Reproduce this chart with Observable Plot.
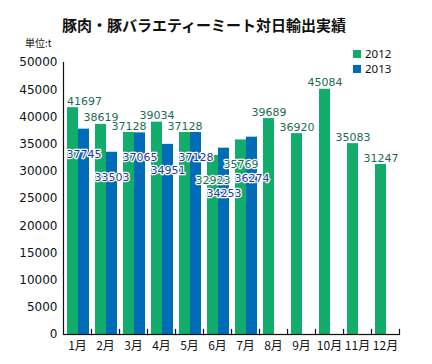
<!DOCTYPE html>
<html>
<head>
<meta charset="utf-8">
<script src="https://cdn.jsdelivr.net/npm/d3@7"></script>
<script src="https://cdn.jsdelivr.net/npm/@observablehq/plot@0.6"></script>
<style>
  body { margin: 0; background: #fff; }
  #wrap { position: relative; width: 432px; height: 364px; overflow: hidden; font-family: "Noto Sans CJK JP", sans-serif; color: #111; }
  #chart { position: absolute; left: 0; top: 0; }
  #title { position: absolute; left: 62px; top: 14px; font-size: 15px; font-weight: bold; white-space: nowrap; line-height: 22px; }
  #unit { position: absolute; left: 25px; top: 36px; font-size: 10px; white-space: nowrap; line-height: 14px; }
  #legend { position: absolute; left: 353px; top: 46px; font-family: "Noto Sans", sans-serif; font-size: 11.5px; line-height: 15px; }
  #legend div { display: flex; align-items: center; height: 15px; }
  #legend span.sw { display: inline-block; width: 8px; height: 8px; margin-right: 4px; }
</style>
</head>
<body>
<div id="wrap">
  <div id="chart"></div>
  <div id="title"></div>
  <div id="unit"></div>
  <div id="legend"></div>
</div>
<script>
const titleText = "豚肉・豚バラエティーミート対日輸出実績";
const unitText = "単位:t";
const months = ["1月","2月","3月","4月","5月","6月","7月","8月","9月","10月","11月","12月"];
const years = ["2012", "2013"];
const values2012 = [41697, 38619, 37128, 39034, 37128, 32923, 35769, 39689, 36920, 45084, 35083, 31247];
const values2013 = [37745, 33503, 37065, 34951, 37128, 34253, 36274];
const yTicks = [0, 5000, 10000, 15000, 20000, 25000, 30000, 35000, 40000, 45000, 50000];
const barColors = ["#12ad6b", "#006bb6"];
const labelColors = ["#1e6b50", "#26399a"];

document.getElementById("title").textContent = titleText;
document.getElementById("unit").textContent = unitText;
const leg = document.getElementById("legend");
years.forEach((y, i) => {
  const row = document.createElement("div");
  const sw = document.createElement("span");
  sw.className = "sw"; sw.style.background = barColors[i];
  row.appendChild(sw);
  row.appendChild(document.createTextNode(y));
  leg.appendChild(row);
});

const rows = [];
months.forEach((m, i) => {
  if (values2012[i] != null) rows.push({month: m, year: "2012", value: values2012[i], idx: i});
  if (values2013[i] != null) rows.push({month: m, year: "2013", value: values2013[i], idx: i});
});

// layout
const W = 432, H = 364, mt = 62, mb = 30, ml = 59, mr = 29;
const fxPad = {inner: 0, outer: 0};
const xPad = {inner: 0, outer: 0.25, align: 0.7};
const fxs = d3.scaleBand(months, [ml, W - mr]).paddingInner(fxPad.inner).paddingOuter(fxPad.outer);
const xs = d3.scaleBand(years, [0, fxs.bandwidth()]).paddingInner(xPad.inner).paddingOuter(xPad.outer).align(xPad.align);
const ys = d3.scaleLinear([0, 50000], [H - mb, mt]);

// label placement (derived: above the bar unless the other series is taller; avoid overlaps)
const fontPx = 11, charW = 0.64 * fontPx, boxH = 12.5;
const labels = rows.map(r => {
  const o = r.year === "2012" ? values2013[r.idx] : null;
  const inside = r.year === "2013" || (o != null && o > r.value);
  const w = String(r.value).length * charW;
  let cx = fxs(r.month) + xs(r.year) + xs.bandwidth() / 2;
  let clamp = false;
  if (cx - w / 2 < ml + 2) { clamp = true; cx = ml + 3.5 + w / 2; }
  return {...r, inside, w, cx, clamp};
});
const placed = [];
const overlaps = (a, cy) => placed.some(p => Math.abs(p.cx - a.cx) < (p.w + a.w) / 2 && Math.abs(p.cy - cy) < boxH);
labels.filter(l => !l.inside).forEach(l => { l.cy = ys(l.value) - 6.5; placed.push(l); });
labels.filter(l => l.inside).sort((a, b) => a.cx - b.cx).forEach(l => {
  let cy = ys(l.value) + 25;
  while (overlaps(l, cy)) cy += 1;
  l.cy = cy; placed.push(l);
});
labels.forEach(l => { l.ly = ys.invert(l.cy); });

const textStyle = {
  text: d => String(d.value),
  fill: d => labelColors[years.indexOf(d.year)],
  stroke: "white", strokeWidth: 2.5, paintOrder: "stroke",
  fontSize: fontPx, fontFamily: "DejaVu Sans"
};

const chart = Plot.plot({
  width: W, height: H,
  marginTop: mt, marginBottom: mb, marginLeft: ml, marginRight: mr,
  style: {fontFamily: "DejaVu Sans", fontSize: "12px", color: "#111", background: "white"},
  fx: {domain: months, paddingInner: fxPad.inner, paddingOuter: fxPad.outer, label: null},
  x: {domain: years, paddingInner: xPad.inner, paddingOuter: xPad.outer, align: xPad.align, axis: null},
  y: {domain: [0, 50000], label: null},
  color: {domain: years, range: barColors},
  marks: [
    Plot.barY(rows, {fx: "month", x: "year", y: "value", fill: "year"}),
    Plot.ruleY([0], {stroke: "#111", strokeWidth: 1.2}),
    Plot.frame({anchor: "right", insetTop: H - mt - mb - 5, stroke: "#111", strokeWidth: 1.2}),
    Plot.frame({anchor: "left", facet: "super", stroke: "#111", strokeWidth: 1.2}),
    Plot.axisY({ticks: yTicks, tickSize: 0, tickPadding: 6, tickFormat: d3.format("d"), fontSize: 12, fontFamily: "DejaVu Sans", label: null}),
    Plot.axisFx({anchor: "bottom", tickSize: 0, tickPadding: 7, fontSize: 12, fontFamily: "Noto Sans CJK JP", label: null}),
    Plot.text(labels.filter(l => !l.clamp), {fx: "month", x: "year", y: "ly", ...textStyle}),
    Plot.text(labels.filter(l => l.clamp), {fx: "month", y: "ly", frameAnchor: "left", textAnchor: "start", dx: 3.5, ...textStyle})
  ]
});
document.getElementById("chart").appendChild(chart);
</script>
</body>
</html>
